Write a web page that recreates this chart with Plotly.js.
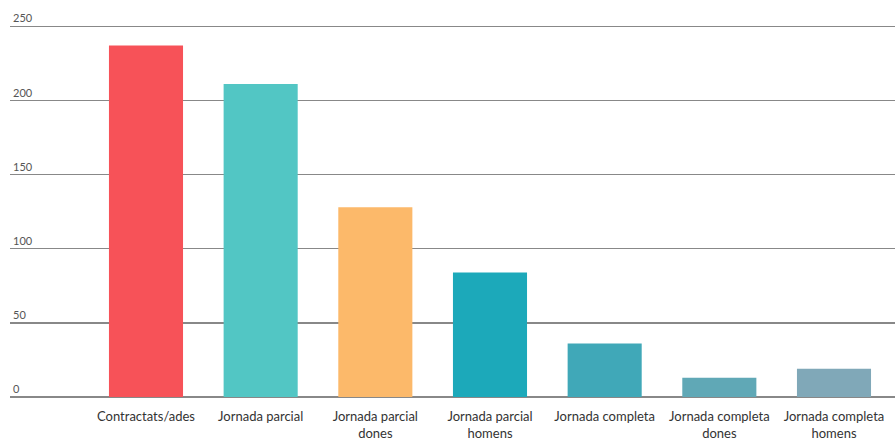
<!DOCTYPE html>
<html>
<head>
<meta charset="utf-8">
<script src="https://cdn.plot.ly/plotly-3.0.1.min.js"></script>
<style>html,body{margin:0;padding:0;background:#fff;}#chart{width:895px;height:441px;}</style>
</head>
<body>
<div id="chart"></div>
<script>
const categories = ["Contractats/ades", "Jornada parcial", "Jornada parcial<br>dones", "Jornada parcial<br>homens", "Jornada completa", "Jornada completa<br>dones", "Jornada completa<br>homens"];
const values = [237, 211, 128, 84, 36, 13, 19];
const barColors = ["#F75258", "#52C6C4", "#FCB96A", "#1CA9BA", "#40A8B8", "#60A8B6", "#80A8B8"];
const yTicks = [0, 50, 100, 150, 200, 250];

const trace = {
  type: "bar",
  x: categories,
  y: values,
  marker: {color: barColors},
  hoverinfo: "x+y"
};

const layout = {
  width: 895,
  height: 441,
  margin: {l: 10, r: 0, t: 4, b: 44},
  paper_bgcolor: "#fff",
  plot_bgcolor: "#fff",
  bargap: 0.354,
  showlegend: false,
  font: {family: "Lato, 'Open Sans', sans-serif", color: "#333"},
  xaxis: {
    type: "category",
    range: [-1.186, 6.532],
    showgrid: false,
    showline: false,
    zeroline: false,
    ticks: "",
    ticklabelstandoff: 10,
    tickfont: {size: 13, color: "#333"},
    fixedrange: true
  },
  yaxis: {
    range: [0, 265],
    tickvals: yTicks,
    ticktext: yTicks.map(String),
    ticklabelposition: "inside top",
    showgrid: true,
    gridcolor: "#888888",
    gridwidth: 1.5,
    zeroline: true,
    zerolinecolor: "#888888",
    zerolinewidth: 1.5,
    showline: false,
    ticks: "",
    tickfont: {size: 11, color: "#555"},
    fixedrange: true
  }
};

Plotly.newPlot("chart", [trace], layout, {displayModeBar: false, staticPlot: true});
</script>
</body>
</html>
